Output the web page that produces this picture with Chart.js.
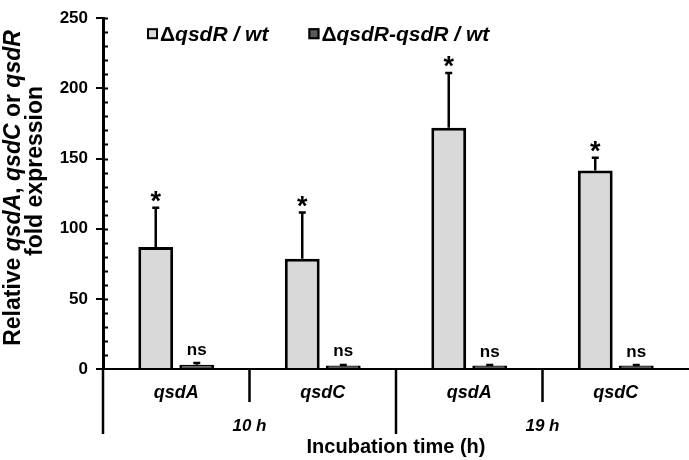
<!DOCTYPE html>
<html>
<head>
<meta charset="utf-8">
<script src="https://cdn.jsdelivr.net/npm/chart.js@4.4.1/dist/chart.umd.min.js"></script>
<style>
  html, body { margin: 0; padding: 0; background: #fff; }
  #wrap { width: 689px; height: 460px; }
</style>
</head>
<body>
<div id="wrap"><canvas id="chart"></canvas></div>
<script>
// data
const genes = ['qsdA', 'qsdC', 'qsdA', 'qsdC'];
const times = ['10 h', '19 h'];
const mutant = [87, 78.5, 172, 141.5];          // ΔqsdR / wt
const mutantErr = [28, 33, 39, 9];
const complemented = [3, 2.5, 2.5, 2.5];        // ΔqsdR-qsdR / wt
const complementedErr = [1.2, 0.4, 0.3, 0.3];
const mutantSig = ['*', '*', '*', '*'];
const complementedSig = ['ns', 'ns', 'ns', 'ns'];

const FONT = "'Liberation Sans', Arial, sans-serif";
const GRAY = '#d9d9d9';
const DARK = '#595959';

// draw text made of runs with different fonts, y = baseline
function drawRuns(ctx, runs, x, y, align) {
    let total = 0;
    runs.forEach(r => { ctx.font = r.f; total += ctx.measureText(r.t).width; });
    let cx = align === 'center' ? x - total / 2 : x;
    ctx.textAlign = 'left';
    ctx.textBaseline = 'alphabetic';
    runs.forEach(r => {
        ctx.font = r.f;
        ctx.fillText(r.t, cx, y);
        cx += ctx.measureText(r.t).width;
    });
    return total;
}

// center the ink of a string on (cx, cy)
function drawCentered(ctx, text, cx, cy, font) {
    ctx.font = font;
    ctx.textAlign = 'center';
    ctx.textBaseline = 'alphabetic';
    const m = ctx.measureText(text);
    ctx.fillText(text, cx, cy + (m.actualBoundingBoxAscent - m.actualBoundingBoxDescent) / 2);
}

const errorBars = {
    id: 'errorBars',
    afterDatasetsDraw(chart) {
        const ctx = chart.ctx;
        const y = chart.scales.y;
        const errs = [mutantErr, complementedErr];
        const sigs = [mutantSig, complementedSig];
        ctx.save();
        ctx.strokeStyle = '#000';
        ctx.fillStyle = '#000';
        chart.data.datasets.forEach((ds, i) => {
            chart.getDatasetMeta(i).data.forEach((bar, j) => {
                const top = y.getPixelForValue(ds.data[j] + errs[i][j]);
                ctx.lineWidth = 2.5;
                ctx.beginPath();
                ctx.moveTo(bar.x, bar.y);
                ctx.lineTo(bar.x, top);
                ctx.moveTo(bar.x - 3.5, top);
                ctx.lineTo(bar.x + 3.5, top);
                ctx.stroke();
                if (sigs[i][j] === '*') {
                    drawCentered(ctx, '*', bar.x, top - 11, 'bold 27px ' + FONT);
                } else {
                    drawCentered(ctx, sigs[i][j], bar.x, top - 13, 'bold 17px ' + FONT);
                }
            });
        });
        ctx.restore();
    }
};

const decorations = {
    id: 'decorations',
    afterDraw(chart) {
        const ctx = chart.ctx;
        const x = chart.scales.x;
        const y = chart.scales.y;
        const area = chart.chartArea;
        const base = area.bottom;
        ctx.save();
        ctx.strokeStyle = '#000';
        ctx.fillStyle = '#000';

        // inner minor ticks every 10
        ctx.lineWidth = 2;
        ctx.beginPath();
        for (let v = 10; v <= 250; v += 10) {
            const py = Math.round(y.getPixelForValue(v)) + 0.5;
            ctx.moveTo(area.left, py);
            ctx.lineTo(area.left + 5, py);
        }
        ctx.stroke();

        // category separators
        const half = (x.getPixelForValue(1) - x.getPixelForValue(0)) / 2;
        ctx.lineWidth = 2.5;
        ctx.beginPath();
        genes.forEach((g, i) => {
            const edge = i === 0 ? area.left : x.getPixelForValue(i) - half;
            const long = i % 2 === 0;
            ctx.moveTo(edge, base);
            ctx.lineTo(edge, base + (long ? 65 : 33));
        });
        ctx.stroke();

        // gene labels
        genes.forEach((g, i) => {
            drawCentered(ctx, g, x.getPixelForValue(i), base + 24, 'italic bold 18px ' + FONT);
        });
        // time labels
        times.forEach((t, k) => {
            const cx = (x.getPixelForValue(2 * k) + x.getPixelForValue(2 * k + 1)) / 2;
            drawCentered(ctx, t, cx, base + 56, 'italic bold 17px ' + FONT);
        });
        // x title
        drawCentered(ctx, 'Incubation time (h)', (area.left + area.right) / 2, base + 78, 'bold 20px ' + FONT);

        // y title
        const b = 'bold 23px ' + FONT;
        const bi = 'italic bold 23px ' + FONT;
        ctx.save();
        ctx.translate(20, 188);
        ctx.rotate(-Math.PI / 2);
        drawRuns(ctx, [
            { t: 'Relative ', f: b }, { t: 'qsdA', f: bi }, { t: ', ', f: b },
            { t: 'qsdC', f: bi }, { t: ' or ', f: b }, { t: 'qsdR', f: bi }
        ], 0, 0, 'center');
        ctx.restore();
        ctx.save();
        ctx.translate(42, 171);
        ctx.rotate(-Math.PI / 2);
        drawRuns(ctx, [{ t: 'fold expression', f: b }], 0, 0, 'center');
        ctx.restore();

        // legend
        const lf = 'bold 21px ' + FONT;
        const lfi = 'italic bold 21px ' + FONT;
        const items = [
            { fill: GRAY, runs: [{ t: 'Δ', f: lf }, { t: 'qsdR / wt', f: lfi }] },
            { fill: DARK, runs: [{ t: 'Δ', f: lf }, { t: 'qsdR-qsdR / wt', f: lfi }] }
        ];
        let lx = area.left + 44;
        const ly = area.top + 10;
        items.forEach(it => {
            ctx.fillStyle = it.fill;
            ctx.fillRect(lx, ly, 11, 11);
            ctx.lineWidth = 2;
            ctx.strokeRect(lx + 1, ly + 1, 9, 9);
            ctx.fillStyle = '#000';
            const w = drawRuns(ctx, it.runs, lx + 13, ly + 13, 'left');
            lx += 13 + w + 40;
        });
        ctx.restore();
    }
};

new Chart(document.getElementById('chart'), {
    type: 'bar',
    data: {
        labels: genes,
        datasets: [
            {
                label: 'ΔqsdR / wt',
                data: mutant,
                backgroundColor: GRAY,
                borderColor: '#000',
                borderWidth: 3,
                categoryPercentage: 0.56,
                barPercentage: 0.85,
            },
            {
                label: 'ΔqsdR-qsdR / wt',
                data: complemented,
                backgroundColor: DARK,
                borderColor: '#000',
                borderWidth: 3,
                categoryPercentage: 0.56,
                barPercentage: 0.85,
            },
        ],
    },
    options: {
        responsive: true,
        maintainAspectRatio: false,
        animation: false,
        devicePixelRatio: 1,
        layout: { padding: { top: 10, left: 0, right: 0, bottom: 0 } },
        plugins: {
            legend: { display: false },
            tooltip: { enabled: false },
        },
        scales: {
            x: {
                afterFit: s => { s.height = 91; },
                grid: { display: false },
                border: { display: true, color: '#000', width: 2 },
                ticks: { display: false },
            },
            y: {
                min: 0,
                max: 250,
                afterFit: s => { s.width = 103; },
                border: { display: true, color: '#000', width: 3 },
                grid: { drawOnChartArea: false, drawTicks: true, tickLength: 7, color: '#000', lineWidth: 2 },
                ticks: {
                    stepSize: 50,
                    padding: 8,
                    color: '#000',
                    font: { family: FONT, size: 17, weight: 'bold' },
                },
            },
        },
    },
    plugins: [errorBars, decorations],
});
</script>
</body>
</html>
